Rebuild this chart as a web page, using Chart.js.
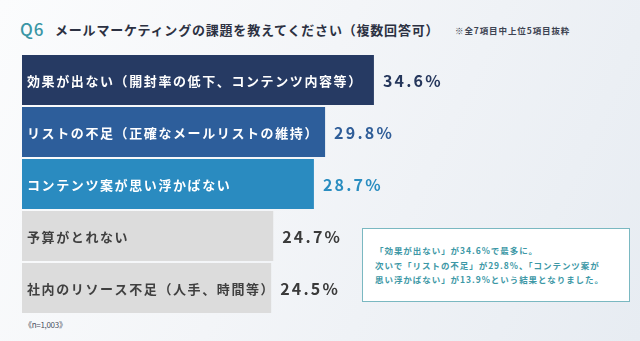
<!DOCTYPE html>
<html lang="ja">
<head>
<meta charset="utf-8">
<script src="https://cdn.jsdelivr.net/npm/chart.js@4/dist/chart.umd.min.js"></script>
<style>
  html, body { margin: 0; padding: 0; }
  body {
    width: 640px; height: 341px; overflow: hidden; position: relative;
    font-family: "Noto Sans CJK JP", "Noto Sans", sans-serif;
    background: linear-gradient(115deg, #fbfcfd 0%, #f3f5f8 45%, #e7ecf2 100%);
  }
  .q { position: absolute; left: 20px; top: 18px; font-size: 17px; font-weight: 500; color: #3a96a5; letter-spacing: 1px; line-height: 22px; }
  .title { position: absolute; left: 55px; top: 20px; font-size: 13px; font-weight: bold; color: #2c3142; letter-spacing: 0.8px; line-height: 20px; }
  .note { position: absolute; left: 455px; top: 24px; font-size: 8.5px; font-weight: bold; color: #3d4352; letter-spacing: 0.9px; line-height: 12px; }
  .n { position: absolute; left: 24px; top: 319px; font-size: 8px; color: #4a5060; line-height: 12px; letter-spacing: -0.3px; }
  .box {
    position: absolute; left: 362px; top: 228px; width: 266px; height: 72px;
    border: 1.5px solid #7ab8c1; background: #fff; box-sizing: content-box;
    padding: 0; color: #3d98a6; font-size: 8.5px; font-weight: bold;
    letter-spacing: 0.95px; line-height: 14.5px;
  }
  .box p { margin: 14px 0 0 12px; }
  #wrap { position: absolute; left: 22px; top: 54px; width: 440px; height: 260px; }
</style>
</head>
<body>
<div class="q">Q6</div>
<div class="title">メールマーケティングの課題を教えてください（複数回答可）</div>
<div class="note">※全7項目中上位5項目抜粋</div>
<div id="wrap"><canvas id="myChart" width="440" height="260"></canvas></div>
<div class="box"><p>「効果が出ない」が34.6%で最多に。<br>次いで「リストの不足」が29.8%、「コンテンツ案が<br>思い浮かばない」が13.9%という結果となりました。</p></div>
<div class="n">《n=1,003》</div>
<script>
const categories = [
  '効果が出ない（開封率の低下、コンテンツ内容等）',
  'リストの不足（正確なメールリストの維持）',
  'コンテンツ案が思い浮かばない',
  '予算がとれない',
  '社内のリソース不足（人手、時間等）'
];
const values = [34.6, 29.8, 28.7, 24.7, 24.5];
const barColors = ['#263a63', '#2d5e9b', '#2a8bc0', '#dcdcdc', '#dcdcdc'];
const nameColors = ['#ffffff', '#ffffff', '#ffffff', '#404040', '#404040'];
const valueColors = ['#26375c', '#2f5d98', '#2a8dc0', '#3a3a3a', '#3a3a3a'];

// 棒の中に項目名、右側に割合を描く
const barText = {
  id: 'barText',
  afterDatasetsDraw(chart) {
    const ctx = chart.ctx;
    const bars = chart.getDatasetMeta(0).data;
    ctx.save();
    ctx.textBaseline = 'middle';
    ctx.textAlign = 'left';
    bars.forEach((bar, i) => {
      ctx.font = 'bold 13px "Noto Sans CJK JP"';
      ctx.letterSpacing = '1.6px';
      ctx.fillStyle = nameColors[i];
      ctx.fillText(categories[i], chart.chartArea.left + 5, bar.y + 1);

      ctx.font = 'bold 16px "Noto Sans CJK JP"';
      ctx.letterSpacing = '2.2px';
      ctx.fillStyle = valueColors[i];
      ctx.fillText(values[i].toFixed(1) + '%', bar.x + 9, bar.y + 1);
    });
    ctx.restore();
  }
};

new Chart(document.getElementById('myChart'), {
  type: 'bar',
  data: {
    labels: categories,
    datasets: [{
      data: values,
      backgroundColor: barColors,
      borderWidth: 0,
      barPercentage: 50 / 52,
      categoryPercentage: 1
    }]
  },
  options: {
    indexAxis: 'y',
    responsive: false,
    animation: false,
    devicePixelRatio: 1,
    layout: { padding: 0 },
    scales: {
      x: { display: false, min: 0, max: 43.26 },
      y: { display: false }
    },
    plugins: {
      legend: { display: false },
      tooltip: { enabled: false }
    }
  },
  plugins: [barText]
});
</script>
</body>
</html>
